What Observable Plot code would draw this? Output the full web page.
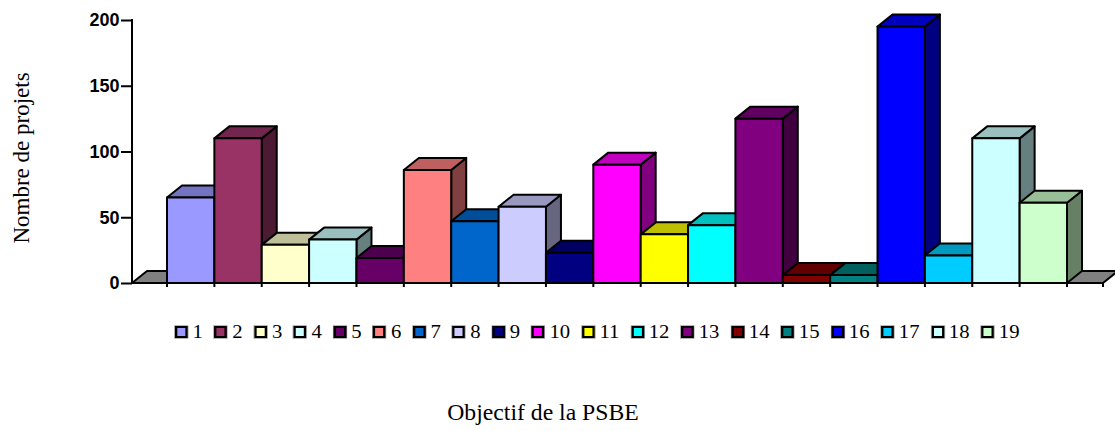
<!DOCTYPE html>
<html>
<head>
<meta charset="utf-8">
<script src="https://cdn.jsdelivr.net/npm/d3@7"></script>
<script src="https://cdn.jsdelivr.net/npm/@observablehq/plot@0.6"></script>
<style>
  body { margin: 0; background: #fff; }
  #wrap { position: relative; width: 1115px; height: 431px; overflow: hidden; font-family: "Liberation Serif", "Times New Roman", serif; color: #000; }
  #chart { position: absolute; left: 0; top: 0; }
  #chart svg text { font-weight: bold; }
  #ylabel { position: absolute; left: 22px; top: 158px; transform: translate(-50%, -50%) rotate(-90deg); font-size: 23px; white-space: nowrap; }
  #xlabel { position: absolute; left: 543px; top: 413px; transform: translate(-50%, -50%) scaleX(1.03); font-size: 23px; white-space: nowrap; }
  #legend { position: absolute; left: 175px; top: 322px; display: flex; gap: 10.2px; font-size: 18px; align-items: center; line-height: 20px; transform: scaleX(1.15); transform-origin: 0 0; font-family: "Liberation Serif", "Times New Roman", serif; }
  .item { display: flex; align-items: center; gap: 4.3px; }
  .sw { width: 7px; height: 8px; border: 2px solid #000; box-shadow: 0 0 0 0.7px #999; }
</style>
</head>
<body>
<div id="wrap">
  <div id="chart"></div>
  <div id="ylabel">Nombre de projets</div>
  <div id="legend"></div>
  <div id="xlabel">Objectif de la PSBE</div>
</div>
<script>
// ---- data ----
const categories = ["1","2","3","4","5","6","7","8","9","10","11","12","13","14","15","16","17","18","19"];
const values = [65, 110, 29, 33, 19, 86, 47, 58, 23, 90, 37, 44, 125, 6, 6, 195, 21, 110, 61];
const yTicks = [0, 50, 100, 150, 200];
const yLabel = "Nombre de projets";
const xLabel = "Objectif de la PSBE";

// ---- palette (front, top, side faces) ----
const frontColors = ["#9999FF","#993366","#FFFFCC","#CCFFFF","#660066","#FF8080","#0066CC","#CCCCFF","#000080","#FF00FF","#FFFF00","#00FFFF","#800080","#800000","#008080","#0000FF","#00CCFF","#CCFFFF","#CCFFCC"];
const shade = (c, k) => { const r = d3.rgb(c); return d3.rgb(r.r * k, r.g * k, r.b * k).formatHex(); };
const topColors = frontColors.map(c => shade(c, 0.75));
const sideColors = frontColors.map(c => shade(c, 0.5));

const rows = categories.map((k, i) => ({k, v: values[i], i}));

const DX = 15, DY = -12;
const poly = pts => "M" + pts.map(p => p.join(",")).join("L") + "Z";

function render3d(index, scales, vals, dimensions) {
  const {x, y} = scales;
  const bw = x(categories[1]) - x(categories[0]);
  const y0 = y(0);
  const L = dimensions.marginLeft, R = dimensions.width - dimensions.marginRight;
  const g = d3.create("svg:g")
    .attr("stroke", "#000").attr("stroke-width", 2).attr("stroke-linejoin", "round");
  // floor
  g.append("path").attr("fill", "#808080")
    .attr("d", poly([[L, y0], [R, y0], [R + DX, y0 + DY], [L + DX, y0 + DY]]));
  // bars, left to right
  for (const i of index) {
    const d = rows[i];
    const x0 = x(d.k), x1 = x0 + bw, yt = y(d.v);
    g.append("path").attr("fill", sideColors[d.i])
      .attr("d", poly([[x1, yt], [x1 + DX, yt + DY], [x1 + DX, y0 + DY], [x1, y0]]));
    g.append("path").attr("fill", topColors[d.i])
      .attr("d", poly([[x0, yt], [x0 + DX, yt + DY], [x1 + DX, yt + DY], [x1, yt]]));
    g.append("path").attr("fill", frontColors[d.i])
      .attr("d", poly([[x0, yt], [x1, yt], [x1, y0], [x0, y0]]));
  }
  // x ticks at category boundaries
  const bounds = categories.map(c => x(c)).concat([x(categories[categories.length - 1]) + bw, R]);
  for (const b of bounds) g.append("line").attr("x1", b).attr("x2", b).attr("y1", y0).attr("y2", y0 + 4);
  // y axis line
  g.append("line").attr("x1", L).attr("x2", L).attr("y1", y(yTicks[0]) + 1).attr("y2", y(yTicks[yTicks.length - 1]) - 1);
  return g.node();
}

const plot = Plot.plot({
  width: 1115,
  height: 300,
  marginLeft: 132,
  marginRight: 12,
  marginTop: 20,
  marginBottom: 17,
  style: {background: "transparent", overflow: "visible"},
  x: {type: "band", domain: categories, range: [167, 1067], padding: 0, round: false, axis: null},
  y: {domain: [0, 200], axis: null},
  marks: [
    Plot.barY(rows, {x: "k", y: "v", render: render3d}),
    Plot.axisY({ticks: yTicks, tickSize: 11, tickPadding: 2, strokeWidth: 2, fontSize: 18, fontFamily: "Liberation Sans, Arial, sans-serif", label: null, tickFormat: d => String(d)})
  ]
});
document.getElementById("chart").appendChild(plot);

// legend
const leg = d3.select("#legend");
categories.forEach((c, i) => {
  const it = leg.append("div").attr("class", "item");
  it.append("div").attr("class", "sw").style("background", frontColors[i]);
  it.append("span").text(c);
});
</script>
</body>
</html>
